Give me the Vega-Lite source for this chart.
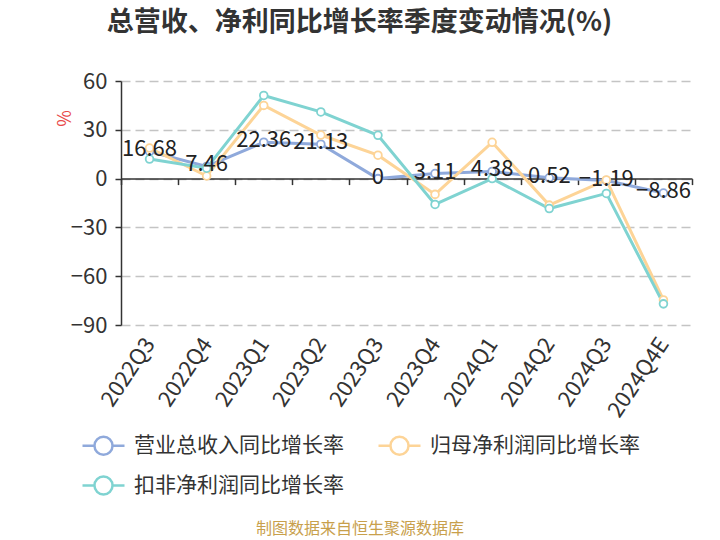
{
  "$schema": "https://vega.github.io/schema/vega-lite/v6.json",
  "autosize": "none",
  "width": 571,
  "height": 244,
  "padding": {"left": 121, "top": 81, "right": 28, "bottom": 215},
  "background": "#ffffff",
  "config": {
    "font": "Noto Sans CJK SC",
    "view": {"stroke": null}
  },
  "title": {
    "text": "总营收、净利同比增长率季度变动情况(%)",
    "fontSize": 27,
    "fontWeight": "bold",
    "color": "#333333",
    "anchor": "middle",
    "dx": -47,
    "offset": 33
  },
  "data": {
    "values": [
      {"q": "2022Q3", "s": "营业总收入同比增长率", "v": 16.68},
      {"q": "2022Q4", "s": "营业总收入同比增长率", "v": 7.46},
      {"q": "2023Q1", "s": "营业总收入同比增长率", "v": 22.36},
      {"q": "2023Q2", "s": "营业总收入同比增长率", "v": 21.13},
      {"q": "2023Q3", "s": "营业总收入同比增长率", "v": 0},
      {"q": "2023Q4", "s": "营业总收入同比增长率", "v": 3.11},
      {"q": "2024Q1", "s": "营业总收入同比增长率", "v": 4.38},
      {"q": "2024Q2", "s": "营业总收入同比增长率", "v": 0.52},
      {"q": "2024Q3", "s": "营业总收入同比增长率", "v": -1.19},
      {"q": "2024Q4E", "s": "营业总收入同比增长率", "v": -8.86},
      {"q": "2022Q3", "s": "归母净利润同比增长率", "v": 18.8},
      {"q": "2022Q4", "s": "归母净利润同比增长率", "v": 1.6},
      {"q": "2023Q1", "s": "归母净利润同比增长率", "v": 45.0},
      {"q": "2023Q2", "s": "归母净利润同比增长率", "v": 26.8},
      {"q": "2023Q3", "s": "归母净利润同比增长率", "v": 14.4},
      {"q": "2023Q4", "s": "归母净利润同比增长率", "v": -9.7},
      {"q": "2024Q1", "s": "归母净利润同比增长率", "v": 22.3},
      {"q": "2024Q2", "s": "归母净利润同比增长率", "v": -16.3},
      {"q": "2024Q3", "s": "归母净利润同比增长率", "v": -0.8},
      {"q": "2024Q4E", "s": "归母净利润同比增长率", "v": -74.6},
      {"q": "2022Q3", "s": "扣非净利润同比增长率", "v": 12.0},
      {"q": "2022Q4", "s": "扣非净利润同比增长率", "v": 6.4},
      {"q": "2023Q1", "s": "扣非净利润同比增长率", "v": 51.1},
      {"q": "2023Q2", "s": "扣非净利润同比增长率", "v": 41.0},
      {"q": "2023Q3", "s": "扣非净利润同比增长率", "v": 26.6},
      {"q": "2023Q4", "s": "扣非净利润同比增长率", "v": -15.9},
      {"q": "2024Q1", "s": "扣非净利润同比增长率", "v": 0.0},
      {"q": "2024Q2", "s": "扣非净利润同比增长率", "v": -18.4},
      {"q": "2024Q3", "s": "扣非净利润同比增长率", "v": -9.1},
      {"q": "2024Q4E", "s": "扣非净利润同比增长率", "v": -77.0}
    ]
  },
  "encoding": {
    "x": {
      "field": "q",
      "type": "nominal",
      "sort": null,
      "bandPosition": 0.5,
      "scale": {"type": "band", "paddingInner": 0, "paddingOuter": 0},
      "axis": {
        "title": null,
        "offset": -146.4,
        "tickBand": "extent",
        "domainColor": "#333333",
        "domainWidth": 1.5,
        "tickColor": "#333333",
        "tickWidth": 1.5,
        "tickSize": 6,
        "labelAngle": -56,
        "labelAlign": "right",
        "labelBaseline": "middle",
        "labelPadding": 155,
        "labelFontSize": 22,
        "labelColor": "#333333",
        "zindex": 0
      }
    },
    "y": {
      "field": "v",
      "type": "quantitative",
      "scale": {"domain": [-90, 60], "nice": false, "zero": false},
      "axis": {
        "values": [-90, -60, -30, 0, 30, 60],
        "title": "%",
        "titleColor": "#e84a4a",
        "titleFontSize": 18,
        "titleFontWeight": "normal",
        "titleX": -56,
        "titleY": 37,
        "titleAngle": -90,
        "titleAlign": "center",
        "titleBaseline": "middle",
        "domainColor": "#333333",
        "domainWidth": 1.5,
        "tickColor": "#333333",
        "tickWidth": 1.5,
        "tickSize": 6,
        "labelPadding": 8,
        "labelFontSize": 22,
        "labelColor": "#333333",
        "gridColor": "#c4c4c4",
        "gridWidth": 1.5,
        "gridDash": [9, 5]
      }
    },
    "color": {
      "field": "s",
      "type": "nominal",
      "sort": ["营业总收入同比增长率", "归母净利润同比增长率", "扣非净利润同比增长率"],
      "scale": {
        "domain": ["营业总收入同比增长率", "归母净利润同比增长率", "扣非净利润同比增长率"],
        "range": ["#8fa9db", "#fdd497", "#7fd3d1"]
      },
      "legend": {
        "title": "制图数据来自恒生聚源数据库",
        "titleOrient": "bottom",
        "titleAnchor": "middle",
        "titleColor": "#c8a04c",
        "titleFontSize": 16,
        "titleFontWeight": "normal",
        "titlePadding": 21,
        "titleLimit": 600,
        "orient": "none",
        "legendX": -40,
        "legendY": 342,
        "direction": "horizontal",
        "columns": 2,
        "columnPadding": 29,
        "rowPadding": 3,
        "symbolType": "M-1,0L-0.43,0M0.43,0L1,0M0.43,0A0.43,0.43,0,1,1,-0.43,0A0.43,0.43,0,1,1,0.43,0",
        "symbolSize": 1764,
        "symbolStrokeWidth": 2.5,
        "symbolFillColor": "#ffffff",
        "labelFontSize": 21,
        "labelColor": "#333333",
        "labelOffset": 8,
        "labelLimit": 300
      }
    }
  },
  "layer": [
    {
      "mark": {"type": "line", "strokeWidth": 3}
    },
    {
      "mark": {"type": "point", "filled": false, "fill": "#ffffff", "fillOpacity": 1, "size": 60, "strokeWidth": 1.8, "opacity": 1}
    },
    {
      "transform": [{"filter": "datum.s === '营业总收入同比增长率'"}],
      "mark": {"type": "text", "fontSize": 22, "baseline": "middle", "dy": -2, "color": "#222222"},
      "encoding": {
        "text": {"field": "v", "type": "quantitative"},
        "color": {"value": "#222222"}
      }
    }
  ]
}
